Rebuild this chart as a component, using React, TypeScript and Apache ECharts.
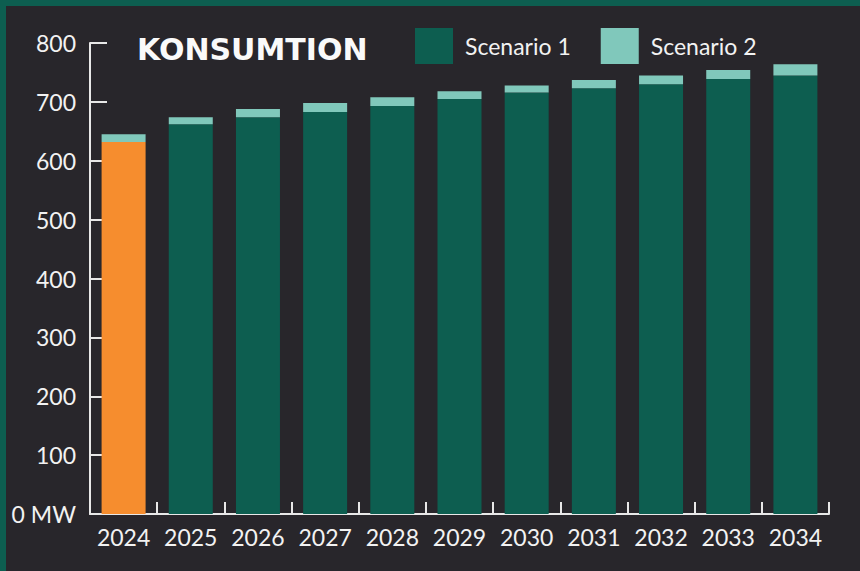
import React, { useEffect, useRef } from "react";
import * as echarts from "echarts";

const years = ["2024", "2025", "2026", "2027", "2028", "2029", "2030", "2031", "2032", "2033", "2034"];
const scenario1 = [632, 662, 674, 683, 693, 705, 716, 723, 730, 739, 745];
const scenario2Extra = [13, 12, 14, 15, 15, 13, 12, 14, 15, 15, 19];
const yTicks = [0, 100, 200, 300, 400, 500, 600, 700, 800];

const DARK = "#0d5e50";
const LIGHT = "#80c8bb";
const ORANGE = "#f68d2e";
const BG = "#28262b";
const FG = "#f2f2f2";
const AXIS = "#e8e8e8";

export default function App() {
  const ref = useRef<HTMLDivElement>(null);
  useEffect(() => {
    document.body.style.margin = "0";
    const chart = echarts.init(ref.current!, null, { renderer: "svg" });
    chart.setOption({
      animation: false,
      backgroundColor: BG,
      grid: { left: 90, right: 31, top: 43, bottom: 57, containLabel: false },
      graphic: [
        { type: "rect", left: 0, top: 0, shape: { width: 860, height: 6 }, style: { fill: DARK }, z: 100 },
        { type: "rect", left: 0, top: 0, shape: { width: 6, height: 571 }, style: { fill: DARK }, z: 100 },
        {
          type: "text",
          x: 137,
          y: 49,
          style: {
            text: "KONSUMTION",
            fill: "#fafafa",
            font: "bold 30px 'DejaVu Sans'",
            textVerticalAlign: "middle",
          },
        },
      ],
      legend: {
        left: 415,
        top: 28,
        padding: 0,
        itemWidth: 38,
        itemHeight: 36,
        itemGap: 30,
        icon: "rect",
        textStyle: { color: FG, fontSize: 23, fontFamily: "Lato", padding: [0, 0, 0, 7] },
        data: ["Scenario 1", "Scenario 2"],
      },
      xAxis: {
        type: "category",
        data: years,
        axisLine: { lineStyle: { color: AXIS, width: 2 } },
        axisTick: { show: true, inside: true, length: 12, interval: 0, lineStyle: { color: AXIS, width: 2 } },
        axisLabel: { color: FG, fontSize: 23, fontFamily: "Lato", margin: 11, interval: 0 },
      },
      yAxis: {
        type: "value",
        min: yTicks[0],
        max: yTicks[yTicks.length - 1],
        interval: 100,
        splitLine: { show: false },
        axisLine: { show: true, lineStyle: { color: AXIS, width: 2 } },
        axisTick: { show: true, inside: true, length: 17, lineStyle: { color: AXIS, width: 2 } },
        axisLabel: {
          color: FG,
          fontSize: 23,
          fontFamily: "Lato",
          margin: 14,
          padding: [8, 0, 0, 0],
          formatter: (v: number) => (v === 0 ? "0 MW" : String(v)),
        },
      },
      series: [
        {
          name: "Scenario 1",
          type: "bar",
          stack: "total",
          barWidth: 44,
          itemStyle: { color: DARK },
          data: scenario1.map((v, i) => (i === 0 ? { value: v, itemStyle: { color: ORANGE } } : v)),
        },
        {
          name: "Scenario 2",
          type: "bar",
          stack: "total",
          barWidth: 44,
          itemStyle: { color: LIGHT },
          data: scenario2Extra,
        },
      ],
    });
    return () => chart.dispose();
  }, []);
  return <div ref={ref} style={{ width: 860, height: 571 }} />;
}
